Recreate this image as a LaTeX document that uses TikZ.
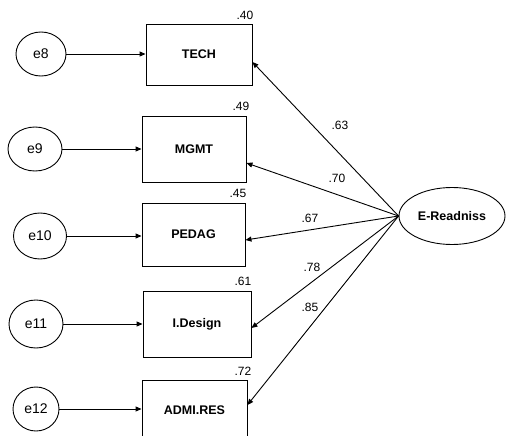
\documentclass[tikz,border=0pt]{standalone}
\usepackage{fontspec}
\setmainfont{Liberation Sans}
\usetikzlibrary{shapes.geometric,arrows.meta}
\begin{document}
\begin{tikzpicture}[x=1pt,y=-1pt,
  every node/.style={inner sep=0pt},
  err/.style={draw,ellipse,line width=0.9pt,font=\fontsize{14}{16}\selectfont},
  obs/.style={draw,rectangle,line width=0.9pt,font=\fontsize{12.5}{15}\selectfont\bfseries},
  lat/.style={draw,ellipse,line width=0.9pt,minimum width=106pt,minimum height=57pt,font=\fontsize{12.5}{15}\selectfont\bfseries},
  num/.style={font=\fontsize{12}{14}\selectfont},
  arr/.style={line width=0.9pt,-{Triangle[length=6pt,width=5pt]}},
]
\useasboundingbox (0,0) rectangle (506,436);

% error terms
\node[err,minimum width=50pt,minimum height=44pt] (e8)  at (41,54)  {e8};
\node[err,minimum width=54pt,minimum height=44pt] (e9)  at (35,149) {e9};
\node[err,minimum width=53pt,minimum height=46pt] (e10) at (40,236) {e10};
\node[err,minimum width=54pt,minimum height=48pt] (e11) at (36,324) {e11};
\node[err,minimum width=46pt,minimum height=44pt] (e12) at (36,409) {e12};

% observed variables
\node[obs,minimum width=106pt,minimum height=61pt] (tech) at (199,54.5) {TECH};
\node[obs,minimum width=104pt,minimum height=66pt] (mgmt) at (194,149) {MGMT};
\node[obs,minimum width=103pt,minimum height=63pt] (pedag) at (193.5,234.5) {PEDAG};
\node[obs,minimum width=108pt,minimum height=66pt] (ides) at (197,324) {I.Design};
\node[obs,minimum width=105pt,minimum height=60pt] (admi) at (194.5,410) {ADMI.RES};

% latent
\node[lat] (E) at (452,216) {E-Readniss};

% squared multiple correlations
\node[num] (r40) at (245,15)  {.40};
\node[num] (r49) at (241,106) {.49};
\node[num] (r45) at (238,193) {.45};
\node[num] (r61) at (243,281) {.61};
\node[num] (r72) at (243,371) {.72};

% error arrows
\draw[arr] (e8.east)  -- (e8.east -| tech.west);
\draw[arr] (e9.east)  -- (e9.east -| mgmt.west);
\draw[arr] (e10.east) -- (e10.east -| pedag.west);
\draw[arr] (e11.east) -- (e11.east -| ides.west);
\draw[arr] (e12.east) -- (e12.east -| admi.west);

% loadings
\draw[arr] (E.west) -- ([yshift=-7.5pt]tech.east);
\draw[arr] (E.west) -- ([yshift=-14pt]mgmt.east);
\draw[arr] (E.west) -- ([yshift=-5.5pt]pedag.east);
\draw[arr] (E.west) -- ([yshift=-4pt]ides.east);
\draw[arr] (E.west) -- ([yshift=5pt]admi.east);

% loading labels
\node[num] (l63) at (340,125) {.63};
\node[num] (l70) at (337,178) {.70};
\node[num] (l67) at (310,218) {.67};
\node[num] (l78) at (312,267) {.78};
\node[num] (l85) at (310,307) {.85};
\end{tikzpicture}
\end{document}
